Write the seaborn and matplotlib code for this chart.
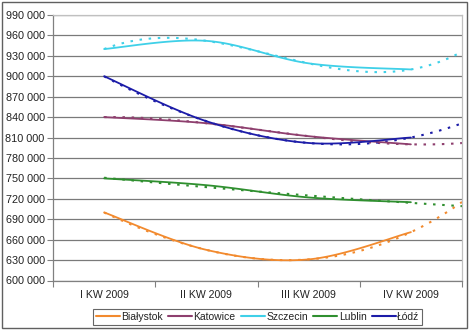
import numpy as np
import pandas as pd
import seaborn as sns
import matplotlib
matplotlib.use("Agg")
import matplotlib.pyplot as plt
from matplotlib.patches import Rectangle
from matplotlib.lines import Line2D

# ---- data ----
categories = ["I KW 2009", "II KW 2009", "III KW 2009", "IV KW 2009"]
series_names = ["Białystok", "Katowice", "Szczecin", "Lublin", "Łódź"]
bialystok = [700000, 645000, 631000, 671000]
katowice = [840000, 831000, 812000, 800000]
szczecin = [940000, 952000, 919000, 910000]
lublin = [750000, 740000, 722000, 715000]
lodz = [900000, 834000, 802000, 810000]
trend_order = [3, 3, 3, 2, 3]   # polynomial trendline order per series
trend_forward = 0.5             # trendline forecast forward (periods)
colors = ["#F28A2E", "#8E3F6E", "#3FD0E8", "#2F8F2F", "#1C1CA8"]
y_ticks = list(range(600000, 990001, 30000))

values = [bialystok, katowice, szczecin, lublin, lodz]

sns.set_theme(style="white")
plt.rcParams["font.family"] = ["Liberation Sans", "DejaVu Sans"]

fig = plt.figure(figsize=(4.70, 3.31), dpi=100)
ax = fig.add_axes([53/470, 1-280.5/331, (462-53)/470, (280.5-15)/331])


def smooth(xs, ys, n=30):
    # Excel-like smoothed line (Bezier with Catmull-Rom control points)
    P = np.column_stack([xs, ys]).astype(float)
    m = len(P)
    out = []
    for i in range(m - 1):
        p0 = P[max(i - 1, 0)]
        p1 = P[i]
        p2 = P[i + 1]
        p3 = P[min(i + 2, m - 1)]
        c1 = p1 + (p2 - p0) / 6.0
        c2 = p2 - (p3 - p1) / 6.0
        t = np.linspace(0, 1, n)[:, None]
        seg = ((1 - t) ** 3) * p1 + 3 * ((1 - t) ** 2) * t * c1 + 3 * (1 - t) * t ** 2 * c2 + t ** 3 * p2
        out.append(seg if i == 0 else seg[1:])
    return np.vstack(out)


xpos = np.arange(1, len(categories) + 1)
rows = []
trows = []
for name, vals, order in zip(series_names, values, trend_order):
    s = smooth(xpos, vals)
    for k, (xx, yy) in enumerate(s):
        rows.append({"series": name, "x": xx, "y": yy, "k": k})
    coef = np.polyfit(xpos, vals, order)
    tx = np.linspace(1, len(categories) + trend_forward, 80)
    ty = np.polyval(coef, tx)
    for xx, yy in zip(tx, ty):
        trows.append({"series": name, "x": xx, "y": yy})

df = pd.DataFrame(rows)
tdf = pd.DataFrame(trows)
pal = dict(zip(series_names, colors))

# gridlines
for yt in y_ticks:
    ax.axhline(yt, color="#7a7a7a", lw=0.9, zorder=0)

for name in series_names:
    d = tdf[tdf.series == name]
    sns.lineplot(x=d.x.values, y=d.y.values, ax=ax, color=pal[name], lw=1.5,
                 linestyle=(0, (1.2, 3.2)), sort=False, estimator=None, zorder=2)
for name in series_names:
    d = df[df.series == name]
    sns.lineplot(x=d.x.values, y=d.y.values, ax=ax, color=pal[name], lw=1.3,
                 sort=False, estimator=None, zorder=3)

ax.set_xlim(0.5, len(categories) + 0.5)
ax.set_ylim(y_ticks[0], y_ticks[-1])
ax.set_yticks(y_ticks)
ax.set_yticklabels([f"{v:,}".replace(",", " ") for v in y_ticks])
ax.set_xticks(xpos)
ax.set_xticklabels(categories)
ax.set_xticks(np.arange(0.5, len(categories) + 0.6, 1), minor=True)
ax.tick_params(axis="x", which="major", length=0, pad=7, labelsize=7.6, labelcolor="#222222")
ax.tick_params(axis="x", which="minor", length=4, width=0.8, color="#808080", direction="out", bottom=True)
ax.tick_params(axis="y", which="major", length=4, width=0.8, color="#808080", direction="out",
               left=True, pad=2, labelsize=7.8, labelcolor="#222222")
ax.set_xlabel("")
ax.set_ylabel("")

for sp in ["left", "bottom"]:
    ax.spines[sp].set_color("#808080")
    ax.spines[sp].set_linewidth(0.9)
for sp in ["top", "right"]:
    ax.spines[sp].set_color("#c0c0c0")
    ax.spines[sp].set_linewidth(0.9)

handles = [Line2D([0], [0], color=c, lw=1.5) for c in colors]
leg = fig.legend(handles, series_names, loc="center", bbox_to_anchor=(257.5/470, 1-317/331),
                 ncol=5, frameon=True, fontsize=7.5, handlelength=2.3, handletextpad=0.15,
                 columnspacing=0.5, borderpad=0.25, fancybox=False)
leg.get_frame().set_edgecolor("#404040")
leg.get_frame().set_linewidth(0.8)
for t in leg.get_texts():
    t.set_color("#222222")

# chart area border
fig.patches.append(Rectangle((1.5/470, 1-327.5/331), 465/470, 326/331, transform=fig.transFigure,
                             fill=False, edgecolor="#606060", lw=1.0))

fig.savefig("out.png", dpi=100)
